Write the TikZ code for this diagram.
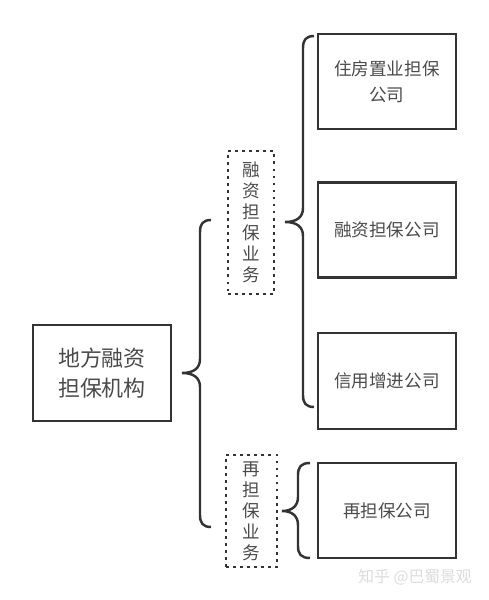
\documentclass[tikz,border=0pt]{standalone}
\usepackage{fontspec}
\setmainfont{Noto Sans CJK SC}
\definecolor{linegray}{HTML}{333333}
\definecolor{textgray}{HTML}{4A4A4A}
\definecolor{markgray}{HTML}{DCDCDC}
% brace: tip x, line x, end x, top y, tip y, bottom y
\newcommand{\drawbrace}[6]{%
\draw[bracepath] (#3,#4) .. controls ({#2+3},#4) and (#2,{#4+4}) .. (#2,{#4+12})
  -- (#2,{#5-14}) .. controls (#2,{#5-5}) and ({#2-6},#5) .. (#1,#5)
  .. controls ({#2-6},#5) and (#2,{#5+5}) .. (#2,{#5+14})
  -- (#2,{#6-12}) .. controls (#2,{#6-4}) and ({#2+3},#6) .. (#3,#6);}
\tikzset{
  box/.style={draw=linegray, line width=1.4pt, minimum width=2.76cm, minimum height=1.9cm,
    text=textgray, align=center, inner sep=0pt},
  dotbox/.style={draw=linegray, line width=1.6pt, dash pattern=on 1.6pt off 2.4pt,
    text=textgray, align=center, inner sep=0pt, font=\fontsize{10pt}{12pt}\selectfont},
  bracepath/.style={draw=linegray, line width=1.4pt}
}
\begin{document}
\begin{tikzpicture}[x=0.02cm,y=-0.02cm]
\useasboundingbox (0,0) rectangle (489,600);
\node[box, minimum height=1.92cm, font=\fontsize{12.5pt}{17pt}\selectfont] (root) at (102,373) {地方融资\\担保机构};
\node[dotbox, minimum width=0.92cm, minimum height=2.86cm] (rz) at (251,222.5) {融\\资\\担\\保\\业\\务};
\node[dotbox, minimum width=1.02cm, minimum height=2.24cm] (zdb) at (251.5,511) {再\\担\\保\\业\\务};
\node[box, font=\fontsize{10pt}{15pt}\selectfont] (zf) at (387,81.5) {住房置业担保\\公司};
\node[box, font=\fontsize{10pt}{15pt}\selectfont] (rzgs) at (387,230) {融资担保公司};
\node[box, minimum height=1.92cm, font=\fontsize{10pt}{15pt}\selectfont] (xy) at (387,381) {信用增进公司};
\node[box, font=\fontsize{10pt}{15pt}\selectfont] (zdbgs) at (387,510.5) {再担保公司};
% braces
\drawbrace{182}{200}{211}{220}{373}{527}
\drawbrace{285}{303}{314}{36}{222}{407}
\drawbrace{282}{298}{310}{463}{511}{558}
\node[text=markgray, font=\fontsize{9pt}{11pt}\selectfont, anchor=east] (mark) at (478,577) {知乎 @巴蜀景观};
\end{tikzpicture}
\end{document}
